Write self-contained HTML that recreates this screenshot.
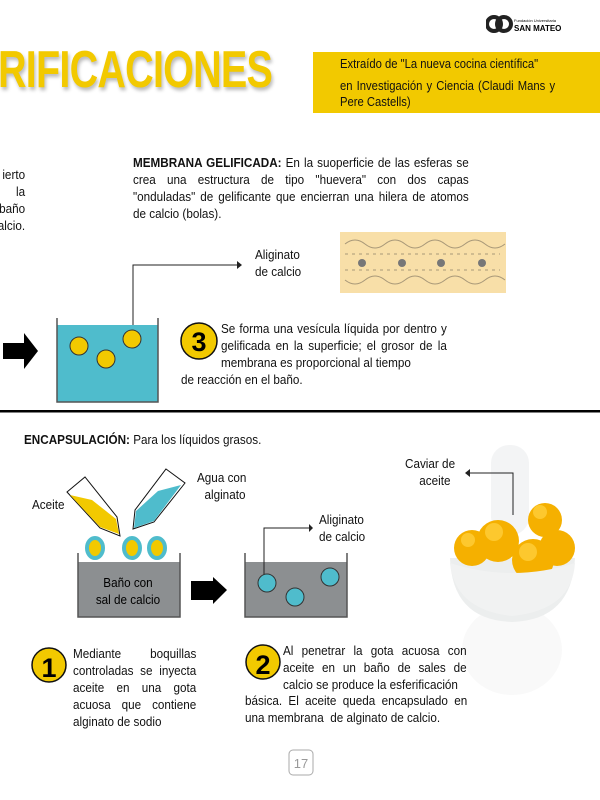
<!DOCTYPE html>
<html><head><meta charset="utf-8"><style>
body{margin:0;width:600px;height:800px;background:#fff;position:relative;overflow:hidden;font-family:"Liberation Sans",sans-serif;color:#111}
.a{position:absolute}
.t{font-size:13px;line-height:17px;transform:scaleX(0.9);transform-origin:left top;white-space:nowrap}
.j{text-align:justify;text-align-last:left;white-space:normal}
</style></head><body>
<div class="a" style="left:-2px;top:40px;font-weight:bold;font-size:52px;color:#f2c900;letter-spacing:-1px;transform:scaleX(0.76);transform-origin:left;text-shadow:2px 3px 4px #bbb">RIFICACIONES</div>
<div class="a" style="left:313px;top:52px;width:287px;height:61px;background:#f2c900"></div>
<div class="a t" style="left:340px;top:56px;font-size:12.5px">Extraído de "La nueva cocina científica"</div>
<div class="a t j" style="left:340px;top:78px;width:239px;font-size:12.5px;line-height:16px">en Investigación y Ciencia (Claudi Mans y Pere Castells)</div>
<svg class="a" style="left:486px;top:14px" width="80" height="22"><circle cx="8" cy="10" r="7" fill="none" stroke="#222" stroke-width="4"/><circle cx="18" cy="10" r="7" fill="none" stroke="#222" stroke-width="4"/><text x="28" y="8" font-size="4" font-family="Liberation Sans">Fundación Universitaria</text><text x="28" y="17" font-size="8" font-weight="bold" font-family="Liberation Sans">SAN MATEO</text></svg>
<div class="a t" style="left:-55px;top:166px;width:89px;text-align:right;line-height:17px">ierto<br>la<br>baño<br>alcio.</div>
<div class="a t j" style="left:133px;top:154px;width:373px"><b>MEMBRANA GELIFICADA:</b> En la suoperficie de las esferas se crea una estructura de tipo "huevera" con dos capas "onduladas" de gelificante que encierran una hilera de atomos de calcio (bolas).</div>
<div class="a" style="left:340px;top:232px;width:166px;height:61px;background:#f8dfa8"></div>
<svg class="a" style="left:340px;top:232px" width="166" height="61"><g stroke="#a89878" stroke-width="1" fill="none"><path d="M5 12 q10 -8 20 0 t20 0 t20 0 t20 0 t20 0 t20 0 t20 0 t20 0"/><path d="M5 48 q10 8 20 0 t20 0 t20 0 t20 0 t20 0 t20 0 t20 0 t20 0"/><path d="M5 22 h155 M5 38 h155" stroke-dasharray="3 4"/></g><g fill="#777"><circle cx="22" cy="31" r="4"/><circle cx="62" cy="31" r="4"/><circle cx="101" cy="31" r="4"/><circle cx="142" cy="31" r="4"/></g></svg>
<div class="a t" style="left:255px;top:246px">Aliginato<br>de calcio</div>
<svg class="a" style="left:0;top:0" width="600" height="800">
<polyline points="133,330 133,265 237,265" fill="none" stroke="#222" stroke-width="1"/><polygon points="237,261 242,265 237,269" fill="#222"/>
<polygon points="3,343 24,343 24,333 38,351 24,369 24,359 3,359" fill="#000"/>
<rect x="57" y="325" width="101" height="77" fill="#4fbccc"/>
<polyline points="57,318 57,402 158,402 158,318" fill="none" stroke="#555" stroke-width="1.5"/>
<circle cx="79" cy="346" r="9" fill="#f2c900" stroke="#333"/><circle cx="106" cy="359" r="9" fill="#f2c900" stroke="#333"/><circle cx="132" cy="339" r="9" fill="#f2c900" stroke="#333"/>
<circle cx="199" cy="341" r="18" fill="#f2c900" stroke="#111" stroke-width="1.5"/>
<text x="199" y="351" font-size="27" font-weight="bold" text-anchor="middle" font-family="Liberation Sans">3</text>
<rect x="0" y="410" width="600" height="2.5" fill="#000"/>
<polygon points="67,492 85,477 117,517 120,536 100,528" fill="#fff" stroke="#111"/>
<polygon points="70,495 92,500 116,519 119,534 100,527" fill="#f2c900"/>
<polygon points="166,469 185,483 154,522 133,529 135,510" fill="#fff" stroke="#111"/>
<polygon points="181,485 154,521 134,528 136,511 158,491" fill="#4fbccc"/>
<g fill="#f2c900" stroke="#4fbccc" stroke-width="4"><ellipse cx="95" cy="548" rx="8" ry="10"/><ellipse cx="132" cy="548" rx="8" ry="10"/><ellipse cx="157" cy="548" rx="8" ry="10"/></g>
<rect x="78" y="562" width="102" height="55" fill="#8c8f91"/>
<polyline points="78,553 78,617 180,617 180,553" fill="none" stroke="#555" stroke-width="1.5"/>
<text x="128" y="587" font-size="13" text-anchor="middle" font-family="Liberation Sans" transform="translate(128 0) scale(0.9 1) translate(-128 0)">Baño con</text>
<text x="128" y="604" font-size="13" text-anchor="middle" font-family="Liberation Sans" transform="translate(128 0) scale(0.9 1) translate(-128 0)">sal de calcio</text>
<polygon points="191,581 213,581 213,577 227,590 213,604 213,600 191,600" fill="#000"/>
<rect x="245" y="562" width="102" height="55" fill="#8c8f91"/>
<polyline points="245,553 245,617 347,617 347,553" fill="none" stroke="#555" stroke-width="1.5"/>
<polyline points="264,575 264,528 309,528" fill="none" stroke="#222"/><polygon points="309,524 313,528 309,532" fill="#222"/>
<g fill="#4fbccc" stroke="#333"><circle cx="267" cy="583" r="9"/><circle cx="295" cy="597" r="9"/><circle cx="330" cy="577" r="9"/></g>
<rect x="491" y="445" width="38" height="90" rx="18" fill="#f3f4f5"/>
<ellipse cx="512" cy="650" rx="50" ry="45" fill="#f9f9f9"/>
<path d="M450 558 Q452 620 512 622 Q572 620 575 558 Z" fill="#eceeee"/>
<g fill="#f5b000"><circle cx="472" cy="548" r="18"/><circle cx="557" cy="548" r="18"/><circle cx="545" cy="520" r="17"/><circle cx="498" cy="541" r="21"/><circle cx="533" cy="560" r="21"/></g>
<g fill="#ffcf3a" opacity="0.8"><circle cx="494" cy="532" r="9"/><circle cx="540" cy="512" r="7"/><circle cx="528" cy="552" r="9"/><circle cx="468" cy="540" r="7"/></g>
<path d="M450 563 Q512 583 575 563 Q572 610 512 616 Q455 610 450 563 Z" fill="#f1f2f2"/>
<polyline points="513,515 513,473 470,473" fill="none" stroke="#222"/><polygon points="470,469 465,473 470,477" fill="#222"/>
<circle cx="49" cy="665" r="17" fill="#f2c900" stroke="#111" stroke-width="1.5"/>
<text x="49" y="677" font-size="27" font-weight="bold" text-anchor="middle" font-family="Liberation Sans">1</text>
<circle cx="263" cy="662" r="17" fill="#f2c900" stroke="#111" stroke-width="1.5"/>
<text x="263" y="674" font-size="27" font-weight="bold" text-anchor="middle" font-family="Liberation Sans">2</text>
<rect x="289" y="750" width="24" height="25" rx="4" fill="#fff" stroke="#aaa"/>
<text x="301" y="768" font-size="13" text-anchor="middle" fill="#999" font-family="Liberation Sans">17</text>
</svg>
<div class="a t j" style="left:221px;top:320px;width:251px">Se forma una vesícula líquida por dentro y gelificada en la superficie; el grosor de la membrana es proporcional al tiempo</div>
<div class="a t" style="left:181px;top:371px">de reacción en el baño.</div>
<div class="a t" style="left:24px;top:431px"><b>ENCAPSULACIÓN:</b> Para los líquidos grasos.</div>
<div class="a t" style="left:32px;top:496px">Aceite</div>
<div class="a t" style="left:197px;top:469px;text-align:center">Agua con<br>&nbsp;&nbsp;alginato</div>
<div class="a t" style="left:319px;top:511px">Aliginato<br>de calcio</div>
<div class="a t" style="left:405px;top:455px;text-align:center">Caviar de<br>&nbsp;&nbsp;&nbsp;aceite</div>
<div class="a t j" style="left:73px;top:645px;width:137px">Mediante boquillas controladas se inyecta aceite en una gota acuosa que contiene alginato de sodio</div>
<div class="a t j" style="left:283px;top:642px;width:204px">Al penetrar la gota acuosa con aceite en un baño de sales de calcio se produce la esferificación</div>
<div class="a t j" style="left:245px;top:692px;width:247px">básica. El aceite queda encapsulado en una membrana &nbsp;de alginato de calcio.</div>
</body></html>
